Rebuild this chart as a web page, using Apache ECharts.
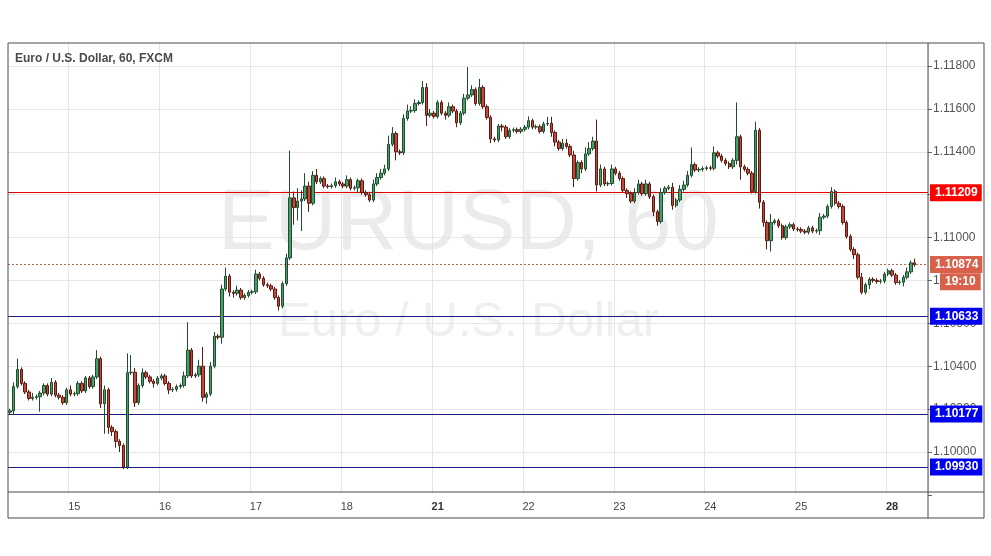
<!DOCTYPE html>
<html>
<head>
<meta charset="utf-8">
<script src="https://cdn.jsdelivr.net/npm/echarts@6/dist/echarts.min.js"></script>
<style>
  html, body { margin: 0; padding: 0; background: #fff; }
  #container { width: 991px; height: 556px; }
</style>
</head>
<body>
<div id="container"></div>
<script>
// hours per trading day shown on the chart
var days = ['14', '15', '16', '17', '18', '21', '22', '23', '24', '25', '28'];
var firstHour = [7, 0, 0, 0, 0, 0, 0, 0, 0, 0, 0];
var lastHour = [23, 23, 23, 23, 23, 23, 23, 23, 23, 23, 6];
var boldDays = ['21', '28'];

var firstOpen = 1.10185;

// hourly closes, one row per day
var closes = [].concat(
    [1.10192, 1.10305, 1.10385, 1.10320, 1.10280, 1.10250, 1.10255, 1.10258, 1.10275, 1.10310, 1.10270, 1.10325, 1.10265, 1.10255, 1.10230, 1.10290, 1.10270],
    [1.10272, 1.10320, 1.10285, 1.10345, 1.10305, 1.10350, 1.10435, 1.10225, 1.10290, 1.10115, 1.10095, 1.10050, 1.10030, 1.09930, 1.10370, 1.10372, 1.10230, 1.10310, 1.10370, 1.10350, 1.10330, 1.10320, 1.10345, 1.10355],
    [1.10320, 1.10290, 1.10292, 1.10305, 1.10310, 1.10355, 1.10475, 1.10355, 1.10360, 1.10400, 1.10255, 1.10270, 1.10400, 1.10540, 1.10535, 1.10760, 1.10820, 1.10745, 1.10740, 1.10755, 1.10720, 1.10730, 1.10745, 1.10747],
    [1.10830, 1.10810, 1.10780, 1.10775, 1.10760, 1.10720, 1.10680, 1.10785, 1.10905, 1.11185, 1.11140, 1.11170, 1.11180, 1.11240, 1.11160, 1.11290, 1.11260, 1.11275, 1.11240, 1.11238, 1.11242, 1.11260, 1.11250, 1.11240],
    [1.11270, 1.11230, 1.11232, 1.11265, 1.11210, 1.11200, 1.11175, 1.11250, 1.11280, 1.11300, 1.11320, 1.11435, 1.11485, 1.11400, 1.11395, 1.11555, 1.11590, 1.11592, 1.11625, 1.11630, 1.11700, 1.11570, 1.11580, 1.11565],
    [1.11630, 1.11580, 1.11570, 1.11610, 1.11590, 1.11535, 1.11580, 1.11650, 1.11665, 1.11690, 1.11625, 1.11700, 1.11610, 1.11560, 1.11460, 1.11455, 1.11520, 1.11515, 1.11470, 1.11500, 1.11503, 1.11495, 1.11505, 1.11515],
    [1.11545, 1.11515, 1.11517, 1.11495, 1.11530, 1.11533, 1.11490, 1.11445, 1.11415, 1.11440, 1.11425, 1.11385, 1.11275, 1.11350, 1.11320, 1.11390, 1.11415, 1.11450, 1.11245, 1.11320, 1.11250, 1.11252, 1.11320, 1.11300],
    [1.11275, 1.11220, 1.11205, 1.11170, 1.11210, 1.11250, 1.11205, 1.11250, 1.11190, 1.11120, 1.11075, 1.11210, 1.11230, 1.11235, 1.11150, 1.11175, 1.11225, 1.11245, 1.11290, 1.11340, 1.11315, 1.11318, 1.11322, 1.11325],
    [1.11323, 1.11395, 1.11380, 1.11360, 1.11345, 1.11330, 1.11360, 1.11470, 1.11330, 1.11318, 1.11300, 1.11215, 1.11500, 1.11165, 1.11070, 1.10985, 1.11070, 1.11078, 1.11055, 1.11000, 1.11050, 1.11060, 1.11040, 1.11038],
    [1.11030, 1.11025, 1.11045, 1.11030, 1.11032, 1.11095, 1.11100, 1.11145, 1.11215, 1.11160, 1.11145, 1.11070, 1.11005, 1.10945, 1.10920, 1.10815, 1.10745, 1.10780, 1.10805, 1.10800, 1.10795, 1.10797, 1.10830, 1.10845],
    [1.10825, 1.10790, 1.10792, 1.10815, 1.10840, 1.10882, 1.10874]
);

// wick length above / below the body, in pips
var wickUp = [].concat(
    [1, 2, 5, 1, 1, 1, 2, 1, 1, 1, 1, 2, 1, 1, 1, 1, 2],
    [1, 1, 1, 1, 1, 1, 4, 1, 2, 1, 1, 1, 1, 1, 9, 8, 2, 1, 2, 1, 1, 1, 1, 1],
    [1, 1, 1, 1, 1, 2, 13, 1, 1, 3, 9, 1, 2, 2, 1, 2, 4, 1, 1, 2, 1, 1, 1, 1],
    [2, 1, 1, 1, 1, 1, 1, 1, 2, 22, 3, 6, 4, 6, 2, 2, 3, 1, 1, 1, 1, 2, 1, 1],
    [2, 1, 1, 1, 1, 1, 1, 2, 2, 2, 2, 4, 3, 1, 1, 2, 3, 2, 2, 1, 3, 2, 2, 1],
    [1, 1, 1, 2, 1, 1, 1, 2, 13, 2, 1, 4, 1, 1, 1, 1, 1, 1, 1, 1, 1, 1, 1, 1],
    [2, 1, 1, 1, 1, 3, 3, 1, 1, 2, 2, 1, 2, 1, 1, 3, 3, 2, 10, 2, 1, 1, 2, 1],
    [1, 1, 1, 1, 2, 2, 1, 2, 1, 1, 1, 2, 1, 1, 2, 1, 2, 2, 2, 8, 1, 1, 1, 1],
    [1, 3, 1, 1, 1, 1, 1, 16, 1, 1, 1, 1, 4, 1, 1, 1, 4, 1, 1, 1, 1, 1, 1, 1],
    [1, 1, 1, 1, 1, 2, 1, 1, 2, 1, 1, 1, 1, 1, 1, 1, 2, 1, 1, 1, 1, 1, 1, 1],
    [1, 1, 1, 1, 2, 1, 2]
);
var wickDn = [].concat(
    [1, 2, 1, 1, 1, 1, 1, 1, 7, 1, 1, 1, 1, 1, 1, 1, 1],
    [1, 1, 1, 1, 1, 1, 1, 2, 14, 3, 2, 3, 3, 1, 1, 1, 2, 1, 1, 1, 1, 2, 1, 1],
    [1, 2, 1, 1, 1, 1, 1, 1, 1, 1, 2, 3, 1, 1, 1, 3, 1, 2, 2, 1, 1, 1, 1, 1],
    [1, 1, 1, 1, 1, 1, 2, 1, 1, 1, 8, 6, 14, 1, 4, 1, 1, 1, 1, 1, 1, 1, 1, 1],
    [1, 1, 1, 2, 1, 1, 1, 1, 1, 1, 1, 1, 1, 4, 1, 1, 1, 1, 1, 1, 1, 5, 1, 1],
    [1, 1, 2, 1, 1, 2, 1, 1, 1, 1, 1, 1, 1, 1, 2, 1, 1, 2, 1, 1, 1, 1, 1, 1],
    [1, 1, 1, 1, 1, 1, 2, 2, 1, 1, 1, 1, 4, 1, 2, 1, 1, 1, 3, 1, 1, 1, 1, 1],
    [1, 1, 2, 1, 1, 1, 1, 1, 1, 2, 2, 1, 1, 1, 2, 1, 1, 1, 1, 1, 1, 1, 1, 1],
    [1, 1, 1, 1, 1, 1, 1, 2, 6, 1, 1, 1, 1, 3, 2, 4, 5, 1, 1, 1, 1, 1, 1, 1],
    [1, 1, 1, 1, 1, 2, 1, 1, 1, 1, 1, 1, 1, 1, 2, 1, 1, 1, 2, 1, 1, 1, 1, 1],
    [1, 1, 1, 2, 1, 1, 1]
);

var resistance = 1.11209;
var supports = [1.10633, 1.10177, 1.09930];
var lastPrice = 1.10874;
var countdown = '19:10';

var categories = [];
for (var d = 0; d < days.length; d++) {
    for (var h = firstHour[d]; h <= lastHour[d]; h++) {
        categories.push(days[d] + ' ' + (h < 10 ? '0' + h : h) + ':00');
    }
}
// empty space right of the last bar
categories.push('', '', '');

var ohlc = [];
for (var i = 0; i < closes.length; i++) {
    var o = i == 0 ? firstOpen : closes[i - 1];
    var c = closes[i];
    var hi = Math.max(o, c) + wickUp[i] * 0.0001;
    var lo = Math.min(o, c) - wickDn[i] * 0.0001;
    ohlc.push([o, c, lo, hi]);
}

function isMidnight(idx) {
    var s = categories[idx];
    return s && s.slice(3) == '00:00';
}

var font = 'Liberation Sans';
var levelLabel = function (bg) {
    return {
        position: 'end', distance: 2, formatter: function (p) { return p.value.toFixed(5); },
        color: '#fff', backgroundColor: bg, fontWeight: 'bold', fontSize: 12, fontFamily: font,
        padding: [3, 4, 2, 5]
    };
};

var marks = [{
    yAxis: resistance,
    lineStyle: {color: '#e00000', type: 'solid', width: 1},
    label: levelLabel('#ff0000')
}];
supports.forEach(function (v) {
    marks.push({
        yAxis: v,
        lineStyle: {color: '#1a1a80', type: 'solid', width: 1},
        label: levelLabel('#0000ee')
    });
});
marks.push({
    yAxis: lastPrice,
    lineStyle: {color: '#b56a55', type: [2, 2], width: 1},
    label: levelLabel('#d9604b')
});
// countdown box sits just under the last price box
marks.push({
    yAxis: lastPrice - 0.0008,
    lineStyle: {color: 'rgba(0,0,0,0)', width: 0},
    label: {
        position: 'end', distance: 12, formatter: countdown,
        color: '#fff', backgroundColor: '#d9604b', fontWeight: 'bold', fontSize: 12,
        fontFamily: font, padding: [3, 5, 2, 5]
    }
});

var myChart = echarts.init(document.getElementById('container'));
var option = {
    animation: false,
    backgroundColor: '#fff',
    textStyle: {fontFamily: font},
    grid: {left: 8, right: 63, top: 23.1, bottom: 61.1},
    graphic: [
        {type: 'text', left: 218, z: 0, silent: true, top: 183,
            style: {text: 'EURUSD, 60', font: '85px "Liberation Sans"', fill: '#ebebeb'}},
        {type: 'text', z: 0, silent: true, top: 298, left: 278,
            style: {text: 'Euro / U.S. Dollar', font: '49px "Liberation Sans"', fill: '#efefef'}},
        {type: 'rect', z: 100, silent: true, shape: {x: 0, y: 0, width: 991, height: 43}, style: {fill: '#fff'}},
        {type: 'rect', z: 100, silent: true, shape: {x: 8, y: 493, width: 920, height: 5}, style: {fill: '#fff'}},
        {type: 'rect', z: 101, silent: true, shape: {x: 8, y: 43, width: 976, height: 475},
            style: {fill: 'none', stroke: '#4a4a4a', lineWidth: 1}},
        {type: 'line', z: 101, silent: true, shape: {x1: 928, y1: 43, x2: 928, y2: 518},
            style: {stroke: '#4a4a4a', lineWidth: 1}},
        {type: 'line', z: 101, silent: true, shape: {x1: 8, y1: 492, x2: 984, y2: 492},
            style: {stroke: '#4a4a4a', lineWidth: 1}},
        {type: 'text', z: 102, left: 15, top: 53,
            style: {text: 'Euro / U.S. Dollar, 60, FXCM', font: 'bold 12px "Liberation Sans"', fill: '#4a4a4a'}}
    ],
    xAxis: {
        type: 'category',
        data: categories,
        boundaryGap: true,
        axisLine: {show: false},
        axisTick: {show: false},
        axisLabel: {
            interval: function (idx) { return isMidnight(idx); },
            formatter: function (v) {
                var day = v.slice(0, 2);
                return boldDays.indexOf(day) >= 0 ? '{b|' + day + '}' : day;
            },
            rich: {b: {fontWeight: 'bold', fontSize: 11, color: '#333', fontFamily: font}},
            color: '#444', fontSize: 11, margin: 7
        },
        splitLine: {
            show: true,
            interval: function (idx) { return isMidnight(idx + 1); },
            lineStyle: {color: '#e6e6e6'}
        }
    },
    yAxis: {
        type: 'value',
        position: 'right',
        scale: true,
        min: 1.098,
        max: 1.120,
        interval: 0.002,
        z: 0,
        axisLine: {show: false},
        axisTick: {show: true, inside: false, length: 4, lineStyle: {color: '#666'}},
        axisLabel: {
            formatter: function (v) {
                if (v < 1.0999 || v > 1.1191) return '';
                return v.toFixed(5);
            },
            color: '#555', fontSize: 12, margin: 5
        },
        splitLine: {lineStyle: {color: '#e6e6e6'}}
    },
    series: [{
        type: 'candlestick',
        z: 20,
        data: ohlc,
        barWidth: '78%',
        itemStyle: {
            color: '#4d9b6a', color0: '#c8473a',
            borderColor: '#1f4d30', borderColor0: '#5a1a12', borderWidth: 1
        },
        markLine: {
            symbol: 'none',
            silent: true,
            animation: false,
            precision: 5,
            z: 20,
            data: marks
        }
    }]
};

myChart.setOption(option);
</script>
</body>
</html>
